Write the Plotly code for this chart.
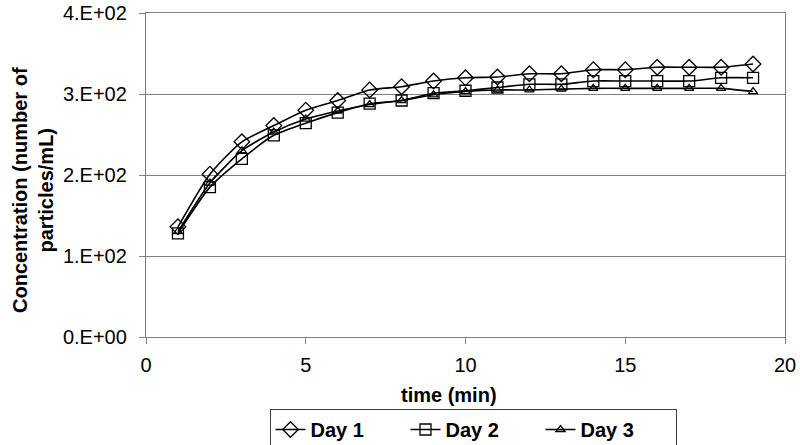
import plotly.graph_objects as go

time_min = list(range(1, 20))
day1 = [136, 201, 241, 261, 280, 292, 305, 309, 316, 320, 321, 325, 325, 330, 330, 333, 333, 333, 337]
day2 = [128, 185, 220, 249, 264, 277, 288, 292, 301, 304, 308, 312, 312, 316, 316, 316, 316, 320, 320]
day3 = [130, 190, 230, 253, 269, 279, 287, 292, 299, 303, 305, 305, 306, 307, 307, 307, 307, 307, 303]

y_tickvals = [0, 100, 200, 300, 400]
y_ticktext = ["0.E+00", "1.E+02", "2.E+02", "3.E+02", "4.E+02"]
x_tickvals = [0, 5, 10, 15, 20]

series = [
    ("Day 1", day1, "diamond-open", 12),
    ("Day 2", day2, "square-open", 11),
    ("Day 3", day3, "triangle-up-open", 8),
]

fig = go.Figure()
for name, vals, sym, sz in series:
    fig.add_trace(go.Scatter(
        x=time_min, y=vals, name=name, mode="lines+markers",
        line=dict(color="black", width=1.6, shape="spline", smoothing=0.6),
        marker=dict(symbol=sym, size=sz, color="black", line=dict(color="black", width=1.3)),
    ))

font = "Liberation Sans, Arial, sans-serif"
L, R, T, B = 146, 15, 13, 108
pw, ph = 800 - L - R, 445 - T - B

fig.update_layout(
    width=800, height=445,
    margin=dict(l=L, r=R, t=T, b=B, autoexpand=False),
    paper_bgcolor="white", plot_bgcolor="white",
    font=dict(family=font, size=20, color="black"),
    showlegend=True,
    legend=dict(
        orientation="h", x=(473 - L) / pw, xanchor="center",
        y=(445 - B - 409) / ph, yanchor="top",
        bordercolor="#404040", borderwidth=1,
        font=dict(family=font, size=20, color="black", weight="bold"),
        entrywidth=90, entrywidthmode="pixels", tracegroupgap=0,
    ),
    xaxis=dict(
        range=[0, 20], tickvals=x_tickvals, showgrid=False,
        showline=True, linecolor="#808080", linewidth=1.3, mirror=True,
        ticks="outside", ticklen=6, tickcolor="#808080",
        tickfont=dict(size=20), zeroline=False, ticklabelstandoff=4,
    ),
    yaxis=dict(
        range=[0, 400], tickvals=y_tickvals, ticktext=y_ticktext,
        showgrid=True, gridcolor="#808080", gridwidth=1,
        showline=True, linecolor="#808080", linewidth=1.3, mirror=True,
        ticks="outside", ticklen=6, tickcolor="#808080",
        tickfont=dict(size=20), zeroline=False, ticklabelstandoff=8,
    ),
    annotations=[
        dict(text="<b>time (min)</b>", xref="paper", yref="paper",
             x=(449 - L) / pw, y=(445 - B - 395) / ph, xanchor="center", yanchor="middle",
             showarrow=False, font=dict(size=20)),
        dict(text="<b>Concentration (number of<br>particles/mL)</b>", xref="paper", yref="paper",
             x=(33 - L) / pw, y=(445 - B - 190) / ph, xanchor="center", yanchor="middle",
             textangle=-90, showarrow=False, font=dict(size=20)),
    ],
)

fig.write_html("out.html", config={"displayModeBar": False},
               post_script="document.body.style.margin='0';document.body.style.padding='0';")
